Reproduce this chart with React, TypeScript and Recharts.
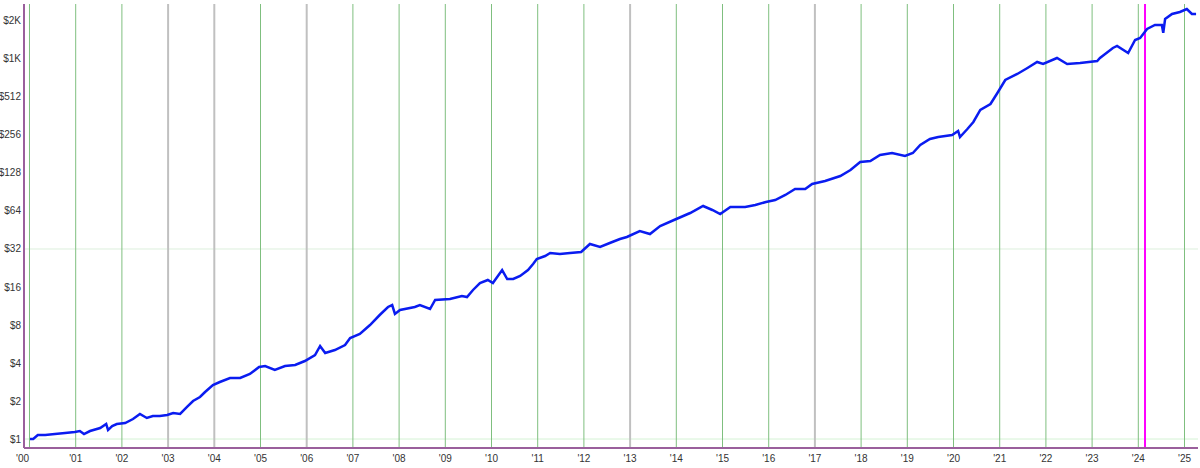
import { LineChart, Line, XAxis, YAxis, ReferenceLine } from "recharts";

// decimal year of each sample
const dates = [
  2000.01, 2000.08, 2000.18, 2000.34, 2000.55, 2000.77, 2000.98, 2001.09, 2001.18, 2001.31,
  2001.53, 2001.66, 2001.7, 2001.79, 2001.89, 2002.07, 2002.24, 2002.39, 2002.54, 2002.67,
  2002.82, 2002.98, 2003.11, 2003.26, 2003.41, 2003.54, 2003.69, 2003.8, 2003.97, 2004.12,
  2004.34, 2004.56, 2004.77, 2004.97, 2005.1, 2005.31, 2005.53, 2005.75, 2005.96, 2006.18,
  2006.29, 2006.4, 2006.61, 2006.83, 2006.94, 2007.15, 2007.37, 2007.58, 2007.76, 2007.85,
  2007.91, 2008.02, 2008.34, 2008.45, 2008.67, 2008.78, 2009.1, 2009.36, 2009.47, 2009.6,
  2009.75, 2009.92, 2010.03, 2010.23, 2010.34, 2010.47, 2010.62, 2010.79, 2010.9, 2010.98,
  2011.16, 2011.27, 2011.48, 2011.7, 2011.94, 2012.13, 2012.35, 2012.56, 2012.78, 2012.93,
  2013.21, 2013.43, 2013.65, 2013.95, 2014.3, 2014.58, 2014.78, 2014.95, 2015.17, 2015.49,
  2015.71, 2015.94, 2016.14, 2016.36, 2016.57, 2016.79, 2016.94, 2017.22, 2017.55, 2017.77,
  2017.98, 2018.2, 2018.41, 2018.67, 2018.95, 2019.12, 2019.28, 2019.49, 2019.67, 2019.97,
  2020.1, 2020.14, 2020.3, 2020.43, 2020.58, 2020.8, 2020.95, 2021.12, 2021.38, 2021.6,
  2021.81, 2021.94, 2022.24, 2022.46, 2022.74, 2023.11, 2023.17, 2023.45, 2023.54, 2023.78,
  2023.93, 2024.04, 2024.19, 2024.36, 2024.51, 2024.54, 2024.58, 2024.73, 2024.9, 2025.05,
  2025.16, 2025.25,
];

// equity in dollars
const equity = [
  1.0, 1.0, 1.076, 1.076, 1.095, 1.116, 1.136, 1.157, 1.095, 1.157,
  1.222, 1.315, 1.178, 1.268, 1.315, 1.339, 1.44, 1.578, 1.467, 1.521,
  1.521, 1.549, 1.607, 1.578, 1.793, 2.0, 2.151, 2.357, 2.678, 2.828,
  3.042, 3.042, 3.273, 3.718, 3.787, 3.52, 3.787, 3.857, 4.148, 4.628,
  5.454, 4.8, 5.07, 5.554, 6.311, 6.788, 8.0, 9.6, 11.11, 11.52,
  9.78, 10.52, 11.11, 11.52, 10.71, 12.62, 12.85, 13.58, 13.33, 15.15,
  17.21, 18.18, 17.21, 21.81, 18.51, 18.51, 19.55, 21.81, 24.34, 26.66,
  28.16, 29.75, 29.2, 29.75, 30.29, 35.05, 33.19, 35.7, 38.4, 39.83,
  44.43, 42.07, 48.68, 54.31, 61.7, 70.1, 65.2, 60.6, 68.8, 68.8,
  71.4, 75.4, 78.2, 85.7, 95.6, 95.6, 104.7, 110.6, 121.2, 135.2,
  156.4, 159.3, 177.7, 184.3, 174.5, 184.3, 213.3, 238.0, 246.8, 256.0,
  275.4, 246.8, 285.6, 324.5, 403.9, 450.6, 550.7, 698.1, 778.9, 868.9,
  969.4, 934.7, 1042.8, 934.7, 951.9, 987.3, 1042.8, 1251.4, 1297.9, 1142.4,
  1448.1, 1501.9, 1769.9, 1903.8, 1903.8, 1650, 2124, 2327, 2413, 2549,
  2327, 2327,
];

const yearTicks = [
  2000, 2001, 2002, 2003, 2004, 2005, 2006, 2007, 2008, 2009, 2010, 2011, 2012,
  2013, 2014, 2015, 2016, 2017, 2018, 2019, 2020, 2021, 2022, 2023, 2024, 2025,
];
const grayYears = [2003, 2004, 2006, 2013, 2017];
const valueTicks = [1, 2, 4, 8, 16, 32, 64, 128, 256, 512, 1024, 2048];
const valueLabels = ["$1", "$2", "$4", "$8", "$16", "$32", "$64", "$128", "$256", "$512", "$1K", "$2K"];
const markerDate = 2024.145;

const data = dates.map((t, i) => ({ t, v: equity[i] }));

const font = "'Liberation Sans', Arial, sans-serif";
const axisColor = "#9a5f9c";

function YearTick(props: any) {
  const { x, y, payload } = props;
  const label = "'" + String(payload.value).slice(2);
  const dx = payload.value === 2000 ? -7 : 0;
  return (
    <text x={x + dx} y={y + 6} textAnchor="middle" fontSize={10} fontFamily={font} fill="#333">
      {label}
    </text>
  );
}

function ValueTick(props: any) {
  const { x, y, payload } = props;
  const idx = valueTicks.indexOf(payload.value);
  return (
    <text x={x + 5} y={y + 3.5} textAnchor="end" fontSize={10} fontFamily={font} fill="#333">
      {valueLabels[idx]}
    </text>
  );
}

export default function App() {
  return (
    <div style={{ position: "fixed", left: 0, top: 0, width: 1200, height: 468, background: "#fff" }}>
      <LineChart width={1200} height={468} data={data} margin={{ top: 4, right: 2, left: 0, bottom: 0 }}>
        <XAxis
          dataKey="t"
          type="number"
          domain={[1999.881, 2025.292]}
          allowDataOverflow
          ticks={yearTicks}
          interval={0}
          tick={<YearTick />}
          tickLine={false}
          axisLine={false}
          height={20}
        />
        <YAxis
          dataKey="v"
          scale="log"
          domain={[0.8487, 2792]}
          allowDataOverflow
          ticks={valueTicks}
          interval={0}
          tick={<ValueTick />}
          tickLine={false}
          axisLine={false}
          width={24}
        />
        <ReferenceLine y={1} stroke="#d4f2d4" strokeWidth={1} />
        <ReferenceLine y={32} stroke="#dcefdc" strokeWidth={1} />
        {yearTicks.map((yr) => {
          const gray = grayYears.includes(yr);
          return (
            <ReferenceLine
              key={yr}
              x={yr}
              stroke={gray ? "#c0c0c0" : "#7fbf7f"}
              strokeWidth={gray ? 2 : 1}
            />
          );
        })}
        <ReferenceLine x={markerDate} stroke="#ff00ff" strokeWidth={2} />
        <ReferenceLine x={1999.881} stroke={axisColor} strokeWidth={2} />
        <ReferenceLine y={0.8487} stroke={axisColor} strokeWidth={2} />
        <Line
          type="linear"
          dataKey="v"
          stroke="#0a1cf0"
          strokeWidth={2.5}
          dot={false}
          isAnimationActive={false}
        />
      </LineChart>
    </div>
  );
}
